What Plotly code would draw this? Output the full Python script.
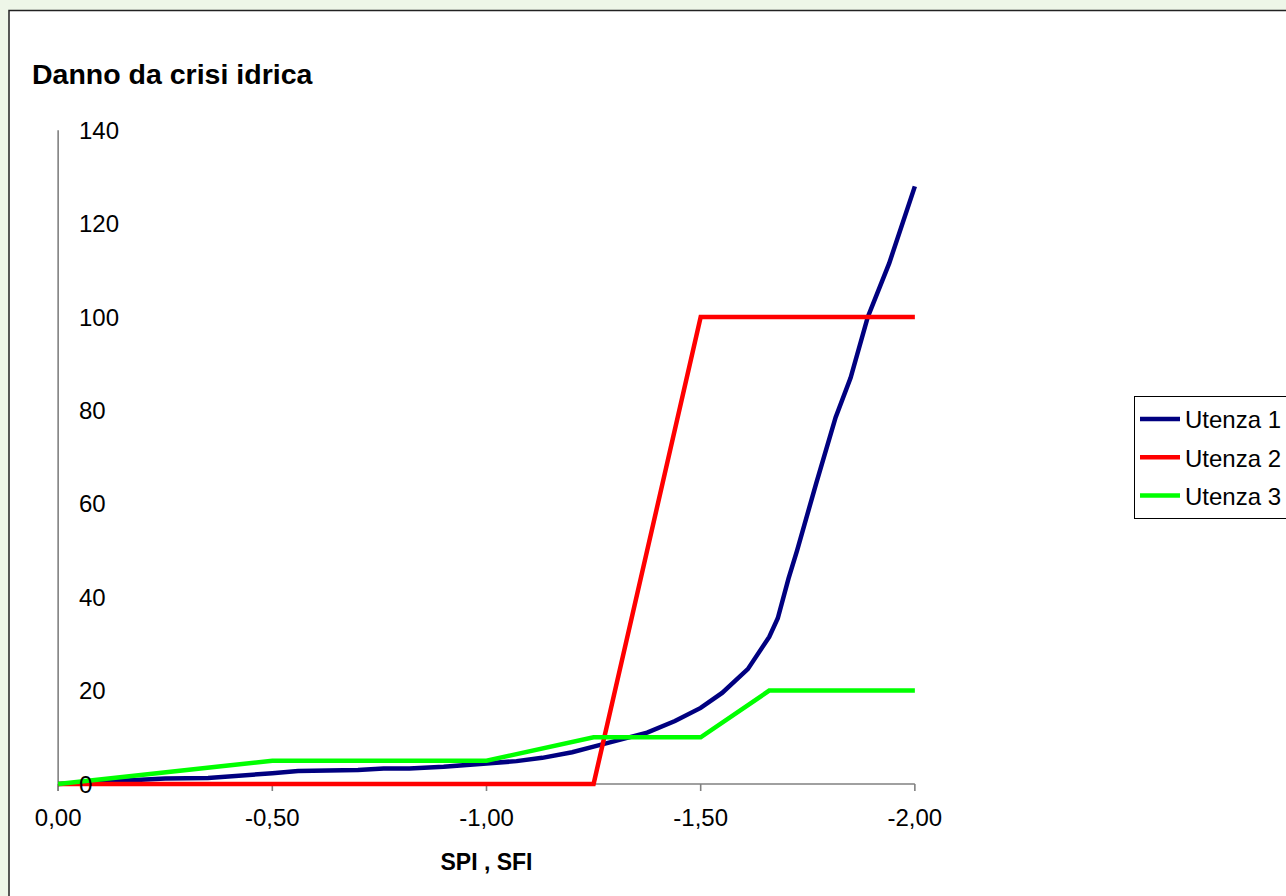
import plotly.graph_objects as go

# ---- data -------------------------------------------------------------
# SPI / SFI index values (x) and damage level (y) for each user
utenza1_x = [0.0, -0.1, -0.2, -0.25, -0.35, -0.4, -0.45, -0.5, -0.56, -0.63, -0.7,
             -0.76, -0.82, -0.9, -1.0, -1.07, -1.13, -1.2, -1.25, -1.3, -1.375,
             -1.44, -1.5, -1.55, -1.61, -1.66, -1.68, -1.705, -1.725, -1.77,
             -1.815, -1.85, -1.89, -1.94, -2.0]
utenza1_y = [0.0, 0.4, 0.8, 1.2, 1.3, 1.6, 2.0, 2.3, 2.8, 2.8, 3.0,
             3.3, 3.3, 3.7, 4.3, 4.9, 5.6, 6.8, 8.0, 9.2, 11.0,
             13.5, 16.3, 19.5, 24.6, 31.5, 35.5, 44.0, 50.0, 64.5,
             78.5, 87.0, 100.0, 111.5, 128.0]

utenza2_x = [0.0, -1.25, -1.5, -2.0]
utenza2_y = [0.0, 0.0, 100.0, 100.0]

utenza3_x = [0.0, -0.5, -1.0, -1.25, -1.5, -1.66, -2.0]
utenza3_y = [0.0, 5.0, 5.0, 10.0, 10.0, 20.0, 20.0]

series_names = ["Utenza 1", "Utenza 2", "Utenza 3"]
series_colors = ["#000080", "#FF0000", "#00FF00"]

x_tickvals = [0.0, -0.5, -1.0, -1.5, -2.0]
x_ticktext = ["0,00", "-0,50", "-1,00", "-1,50", "-2,00"]
y_tickvals = [0, 20, 40, 60, 80, 100, 120, 140]
y_ticktext = ["0", "20", "40", "60", "80", "100", "120", "140"]

# ---- layout geometry (pixels) ----------------------------------------
W, H = 1286, 896
ML, MR, MT, MB = 56, 369, 128, 105
PW, PH = W - ML - MR, H - MT - MB
AXIS_GREY = "#808080"
FONT = "Liberation Sans, Arial, sans-serif"


def px_x(p):
    return (p - ML) / PW


def px_y(p):
    return (H - MB - p) / PH


fig = go.Figure()
for xs, ys, name, col in zip([utenza1_x, utenza2_x, utenza3_x],
                             [utenza1_y, utenza2_y, utenza3_y],
                             series_names, series_colors):
    fig.add_trace(go.Scatter(x=xs, y=ys, mode="lines", name=name,
                             legendgroup=name,
                             line=dict(color=col, width=4.5)))

shapes = []
# white chart area with dark frame
shapes.append(dict(type="rect", xref="paper", yref="paper", layer="below",
                   x0=px_x(9), x1=px_x(W + 20), y0=px_y(H + 20), y1=px_y(10.5),
                   fillcolor="white", line=dict(color="#222222", width=1.5)))
# axis lines drawn at the data origin
shapes.append(dict(type="line", xref="x", yref="y", x0=0, x1=-2.0, y0=0, y1=0,
                   line=dict(color=AXIS_GREY, width=1.6), layer="below"))
shapes.append(dict(type="line", xref="x", yref="y", x0=0, x1=0, y0=-1.5, y1=140,
                   line=dict(color=AXIS_GREY, width=1.6), layer="below"))
# x tick marks
for tv in x_tickvals:
    shapes.append(dict(type="line", xref="x", yref="y", x0=tv, x1=tv,
                       y0=0, y1=-1.5, line=dict(color=AXIS_GREY, width=1.6),
                       layer="below"))

# y tick labels sit just to the right of the vertical axis
annotations = []
for tv, tt in zip(y_tickvals, y_ticktext):
    annotations.append(dict(x=0, y=tv, xref="x", yref="y", text=tt,
                            showarrow=False, xanchor="left", yanchor="middle",
                            xshift=19, font=dict(size=24, color="black")))

fig.update_layout(
    width=W, height=H,
    margin=dict(l=ML, r=MR, t=MT, b=MB, autoexpand=False),
    paper_bgcolor="#eef6e8",
    plot_bgcolor="rgba(0,0,0,0)",
    font=dict(family=FONT, size=24, color="black"),
    title=dict(text="<b>Danno da crisi idrica</b>", font=dict(size=28.5),
               xref="container", yref="container",
               x=32 / W, xanchor="left", y=1 - 74 / H, yanchor="middle"),
    shapes=shapes,
    annotations=annotations,
    showlegend=True,
    legend=dict(x=px_x(1134), y=px_y(396), xanchor="left", yanchor="top",
                bgcolor="white", bordercolor="black", borderwidth=1,
                font=dict(size=24, color="black"), traceorder="grouped",
                tracegroupgap=4, itemwidth=40),
    xaxis=dict(range=[0.005, -2.005], showgrid=False, zeroline=False,
               showline=False, ticks="", tickvals=x_tickvals,
               ticktext=x_ticktext, ticklabelstandoff=10,
               tickfont=dict(size=24, color="black"),
               title=dict(text="<b>SPI , SFI</b>", standoff=23,
                          font=dict(size=23, color="black"))),
    yaxis=dict(range=[-1.5, 140.5], showgrid=False, zeroline=False,
               showline=False, ticks="", showticklabels=False),
)

fig.write_html("out.html")
